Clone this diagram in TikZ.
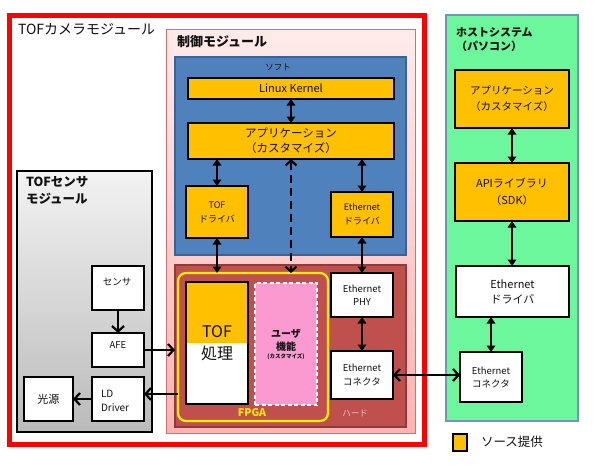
\documentclass[tikz,border=0pt]{standalone}
\usepackage{fontspec}
\setmainfont{Noto Sans CJK JP}
\usetikzlibrary{arrows.meta,calc}
\definecolor{orng}{HTML}{FFC000}
\definecolor{redf}{HTML}{FF0000}
\definecolor{softc}{HTML}{4F81BD}
\definecolor{softd}{HTML}{3A6496}
\definecolor{hardc}{HTML}{C0504D}
\definecolor{hardd}{HTML}{8E3B39}
\definecolor{fpgay}{HTML}{FFF000}
\definecolor{userc}{HTML}{FA9AD0}
\definecolor{hostc}{HTML}{6CF79C}
\definecolor{hostd}{HTML}{7396B8}
\definecolor{ctrld}{HTML}{D07070}
\definecolor{hardtxt}{HTML}{F2C4C4}
\definecolor{txt}{HTML}{111111}
\newcommand\fsz[2]{\fontsize{#1pt}{#2pt}\selectfont}
\begin{document}
\begin{tikzpicture}[x=1pt,y=-1pt,
  every node/.style={inner sep=0pt, outer sep=0pt, align=center, text=txt},
  obox/.style={draw=black, line width=1.2pt, fill=orng},
  wbox/.style={draw=black, line width=1.2pt, fill=white},
  dbl/.style={line width=2.2pt, {Triangle[width=8.5pt,length=6.5pt]}-{Triangle[width=8.5pt,length=6.5pt]}},
  barb/.style={line width=2.2pt, -{Straight Barb[length=5.5pt,width=12pt]}},
  dbarb/.style={line width=2.2pt, {Straight Barb[length=5.5pt,width=12pt]}-{Straight Barb[length=5.5pt,width=12pt]}},
  dasharrow/.style={line width=2.2pt, dash pattern=on 8pt off 5pt, {Straight Barb[length=5pt,width=11pt]}-{Straight Barb[length=5pt,width=11pt]}}
]
\useasboundingbox (0,0) rectangle (600,474);
\fill[white] (0,0) rectangle (600,474);

% TOF camera module (red frame)
\node[draw=redf, line width=5pt, fill=white, minimum width=415pt, minimum height=429pt] (cam) at (216.5,229.5) {};
\node[anchor=west, font=\fsz{14}{16}] (camlbl) at (18,29) {TOFカメラモジュール};

% control module
\node[draw=ctrld, line width=1pt, top color=red!8, bottom color=red!30, minimum width=249pt, minimum height=404pt] (ctrl) at (290.5,231) {};
\node[anchor=west, font=\fsz{13}{16}\bfseries] (ctrllbl) at (177,42) {制御モジュール};

% soft
\node[draw=softd, line width=1.5pt, fill=softc, minimum width=231pt, minimum height=198pt] (soft) at (290.5,156) {};
\node[font=\fsz{8.5}{10}] (softlbl) at (278,67) {ソフト};

% hard
\node[draw=hardd, line width=1.5pt, fill=hardc, minimum width=231pt, minimum height=162pt] (hard) at (290.5,346) {};
\node[font=\fsz{8.5}{10}, text=hardtxt] (hardlbl) at (355,413) {ハード};

% FPGA
\node[draw=fpgay, line width=2.2pt, fill=hardc, rounded corners=8pt, minimum width=150pt, minimum height=148pt] (fpga) at (253,347) {};
\node[font=\fsz{10.5}{12}\bfseries, text=fpgay] (fpgalbl) at (252,413) {FPGA};

% soft boxes
\node[obox, minimum width=206pt, minimum height=21pt, font=\fsz{11}{12}] (kernel) at (291,88.5) {Linux Kernel};
\node[obox, minimum width=206pt, minimum height=36pt, font=\fsz{11.5}{15}] (app) at (291,141) {アプリケーション\\（カスタマイズ）};
\node[obox, minimum width=62pt, minimum height=52pt, font=\fsz{9}{14}] (tofdrv) at (217,212) {TOF\\ドライバ};
\node[obox, minimum width=62pt, minimum height=45pt, font=\fsz{9}{14}] (ethdrv) at (362,214.5) {Ethernet\\ドライバ};

% hard boxes
\node[draw=black, line width=1.4pt, fill=white, minimum width=62pt, minimum height=122pt, font=\fsz{16}{22},
  path picture={\fill[orng] (path picture bounding box.north west) rectangle (path picture bounding box.east);}] (tofproc) at (217,343) {TOF\\処理};
\node[draw=white, line width=1.2pt, dash pattern=on 4pt off 2.5pt, fill=userc, minimum width=62pt, minimum height=122pt] (user) at (286,344) {};
\node[font=\fsz{10}{13}\bfseries] (userlbl) at (286,340) {ユーザ\\機能};
\node[font=\fsz{5.5}{7}\bfseries] (userlbl2) at (286,357) {(カスタマイズ)};
\node[wbox, minimum width=62pt, minimum height=44pt, font=\fsz{9.5}{13}] (phy) at (362,295) {Ethernet\\PHY};
\node[wbox, minimum width=62pt, minimum height=48pt, font=\fsz{9.5}{14}] (ethcon) at (362,375) {Ethernet\\コネクタ};

% TOF sensor module
\node[draw=black, line width=1.5pt, top color=black!5, bottom color=black!27, minimum width=135pt, minimum height=261pt] (sensmod) at (84.5,301.5) {};
\node[anchor=west, align=left, font=\fsz{12.5}{17}\bfseries] (sensmodlbl) at (26,190.5) {TOFセンサ\\モジュール};
\node[wbox, minimum width=52pt, minimum height=44pt] (sensor) at (118,288) {};
\node[font=\fsz{9.5}{12}] (sensorlbl) at (117,282) {センサ};
\node[wbox, minimum width=52pt, minimum height=34pt] (afe) at (118,350) {};
\node[font=\fsz{9.5}{12}] (afelbl) at (118,345) {AFE};
\node[wbox, minimum width=52pt, minimum height=44pt] (lddrv) at (118,399) {};
\node[anchor=west, align=left, font=\fsz{10}{14}] (lddrvlbl) at (101,401) {LD\\Driver};
\node[wbox, minimum width=49pt, minimum height=44pt, font=\fsz{11}{13}] (light) at (48.5,399) {光源};

% host system
\node[draw=hostd, line width=1.2pt, fill=hostc, minimum width=132pt, minimum height=406pt] (host) at (512,218) {};
\node[anchor=west, align=left, font=\fsz{11}{14}\bfseries] (hostlbl) at (456,40) {ホストシステム\\（パソコン）};
\node[obox, minimum width=114pt, minimum height=58pt, font=\fsz{10.5}{16}] (happ) at (512,99) {アプリケーション\\（カスタマイズ）};
\node[obox, minimum width=114pt, minimum height=58pt, font=\fsz{11}{17}] (hapi) at (512,192) {APIライブラリ\\（SDK）};
\node[wbox, minimum width=113pt, minimum height=51pt, font=\fsz{11}{15}] (hdrv) at (512.5,291.5) {Ethernet\\ドライバ};
\node[wbox, minimum width=62pt, minimum height=50pt, font=\fsz{9.5}{13}] (hcon) at (491,377) {Ethernet\\コネクタ};

% legend
\node[obox, minimum width=14pt, minimum height=17pt] (leg) at (460,442.5) {};
\node[anchor=west, font=\fsz{12.5}{15}] (leglbl) at (481,442) {ソース提供};

% connectors
\coordinate (ldin) at (0,394);
\draw[dbl] (kernel.south) -- (app.north);
\draw[dbl] (tofdrv.north) -- (tofdrv.north |- app.south);
\draw[dbl] (ethdrv.north) -- (ethdrv.north |- app.south);
\draw[dasharrow] (app.south) -- (app.south |- fpga.north);
\draw[dbl] (tofdrv.south) -- (tofdrv.south |- fpga.north);
\draw[dbl] (ethdrv.south) -- (phy.north);
\draw[dbl] (phy.south) -- (ethcon.north);
\draw[dbl] (happ.south) -- (hapi.north);
\draw[dbl] (hapi.south) -- (hapi.south |- hdrv.north);
\draw[dbl] (hcon.north) -- (hcon.north |- hdrv.south);
\draw[dbarb] (ethcon.east) -- (ethcon.east -| hcon.west);
\draw[barb] (sensor.south) -- (afe.north);
\draw[barb] (afe.east) -- (afe.east -| hard.west);
\draw[barb] (fpga.west |- ldin) -- (lddrv.east |- ldin);
\draw[barb] (lddrv.west) -- (light.east);
\end{tikzpicture}
\end{document}
